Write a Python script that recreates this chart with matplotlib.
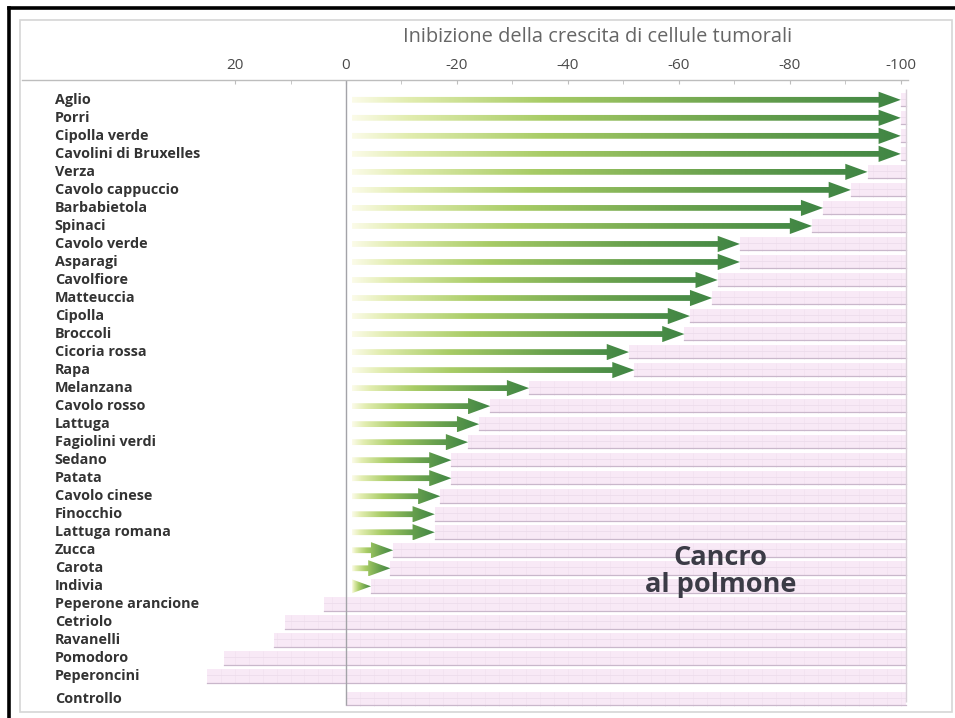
import matplotlib.pyplot as plt
import numpy as np
from matplotlib.colors import LinearSegmentedColormap
from matplotlib.patches import Polygon, Rectangle
from matplotlib.lines import Line2D
from matplotlib.transforms import blended_transform_factory

plt.rcParams['font.family'] = ['Open Sans', 'DejaVu Sans']

# ortaggi e variazione della crescita (negativo = inibizione)
ortaggi = [
    'Aglio', 'Porri', 'Cipolla verde', 'Cavolini di Bruxelles', 'Verza',
    'Cavolo cappuccio', 'Barbabietola', 'Spinaci', 'Cavolo verde', 'Asparagi',
    'Cavolfiore', 'Matteuccia', 'Cipolla', 'Broccoli', 'Cicoria rossa', 'Rapa',
    'Melanzana', 'Cavolo rosso', 'Lattuga', 'Fagiolini verdi', 'Sedano',
    'Patata', 'Cavolo cinese', 'Finocchio', 'Lattuga romana', 'Zucca',
    'Carota', 'Indivia', 'Peperone arancione', 'Cetriolo', 'Ravanelli',
    'Pomodoro', 'Peperoncini', 'Controllo',
]
crescita = [
    -100, -100, -100, -100, -94,
    -91, -86, -84, -71, -71,
    -67, -66, -62, -61, -51, -52,
    -33, -26, -24, -22, -19,
    -19, -17, -16, -16, -8.5,
    -8, -4.5, 4, 11, 13,
    22, 25, 0,
]
tick_valori = [20, 0, -20, -40, -60, -80, -100]
titolo = 'Inibizione della crescita di cellule tumorali'
etichetta = 'Cancro\nal polmone'

W, H = 955, 718
fig = plt.figure(figsize=(W / 100, H / 100), dpi=100)
fig.patch.set_facecolor('white')

# cornice
fig.add_artist(Rectangle((20 / W, 1 - 712 / H), 932 / W, 692 / H,
                         transform=fig.transFigure, fill=False,
                         edgecolor='#d6d6d6', lw=1.2))
fig.add_artist(Line2D([9 / W, 1], [1 - 8 / H, 1 - 8 / H],
                      transform=fig.transFigure, color='black', lw=2.6))
fig.add_artist(Line2D([9 / W, 9 / W], [1 - 8 / H, 0],
                      transform=fig.transFigure, color='black', lw=2.6))

ax = fig.add_axes([22 / W, 1 - 707 / H, 886 / W, 627 / H])
x_left, x_right = 58.4, -101.3
y_top, y_bottom = -1.1, 33.7

ypos = np.arange(len(ortaggi), dtype=float)
ypos[-1] += 0.25

verde = LinearSegmentedColormap.from_list(
    'verde', [(0.0, '#fbfbe8'), (0.1, '#e2edb0'), (0.35, '#a8cc66'),
              (0.7, '#6aa24e'), (1.0, '#3f8544')])
grad = np.linspace(0, 1, 256).reshape(1, -1)

bar_h = 0.78
for y, v in zip(ypos, crescita):
    # banda rosa dalla punta fino a -100
    start = v
    ax.barh(y, -101 - start, left=start, height=bar_h, color='#f8e9f6',
            edgecolor='none', zorder=1)
    ax.plot([start, -101], [y + bar_h / 2 - 0.04] * 2, color='#c9b7cb',
            lw=0.9, zorder=1.5)
    ax.plot([start, -101], [y - 0.05] * 2, color='#eddcec', lw=0.6,
            zorder=1.5)
    ax.vlines(np.arange(-100, start, 2.5), y - bar_h / 2,
              y + bar_h / 2, colors='#f1e1f0', lw=0.5, zorder=1.2)

    if v < 0:
        x0 = -1.0
        head = min(4.0, abs(v) - 0.5)
        sh, hh = 0.16, 0.45
        pts = [(x0, y - sh), (v + head, y - sh), (v + head, y - hh), (v, y),
               (v + head, y + hh), (v + head, y + sh), (x0, y + sh)]
        poly = Polygon(pts, closed=True, facecolor='none', edgecolor='none',
                       zorder=3)
        ax.add_patch(poly)
        im = ax.imshow(grad, cmap=verde, aspect='auto',
                       extent=(x0, v, y + hh, y - hh), zorder=3,
                       interpolation='bilinear')
        im.set_clip_path(poly)

# linea dello zero e bordo destro
ax.vlines(0, y_top, y_bottom - 0.1, colors='#a3a3a8', lw=1.0, zorder=2)
ax.vlines(-101, -0.6, y_bottom - 0.3, colors='#d8d0d8', lw=1.0, zorder=2)

ax.set_xlim(x_left, x_right)
ax.set_ylim(y_bottom, y_top)

for s in ['left', 'right', 'bottom']:
    ax.spines[s].set_visible(False)
ax.spines['top'].set_color('#bdbdbd')
ax.spines['top'].set_linewidth(1.0)
ax.xaxis.tick_top()
ax.set_xticks(tick_valori)
ax.set_xticklabels([str(t) for t in tick_valori])
ax.set_xticks(np.arange(20, -101, -10), minor=True)
ax.tick_params(axis='x', which='both', direction='in', length=3,
               color='#bdbdbd', labelsize=11, labelcolor='#4a4a4a', pad=5)
ax.set_yticks([])

trans = blended_transform_factory(ax.transAxes, ax.transData)
for y, nome in zip(ypos, ortaggi):
    ax.text(0.037, y, nome, transform=trans, ha='left', va='center',
            fontsize=10.4, fontweight='bold', color='#333333')

fig.text(598 / W, 1 - 37 / H, titolo, ha='center', va='center',
         fontsize=14.4, color='#666666')
ax.text(-67.5, 26.2, etichetta, ha='center', va='center', fontsize=19.5,
        fontweight='bold', color='#3b3b46', linespacing=1.05, zorder=4)

fig.savefig('out.png', dpi=100)
